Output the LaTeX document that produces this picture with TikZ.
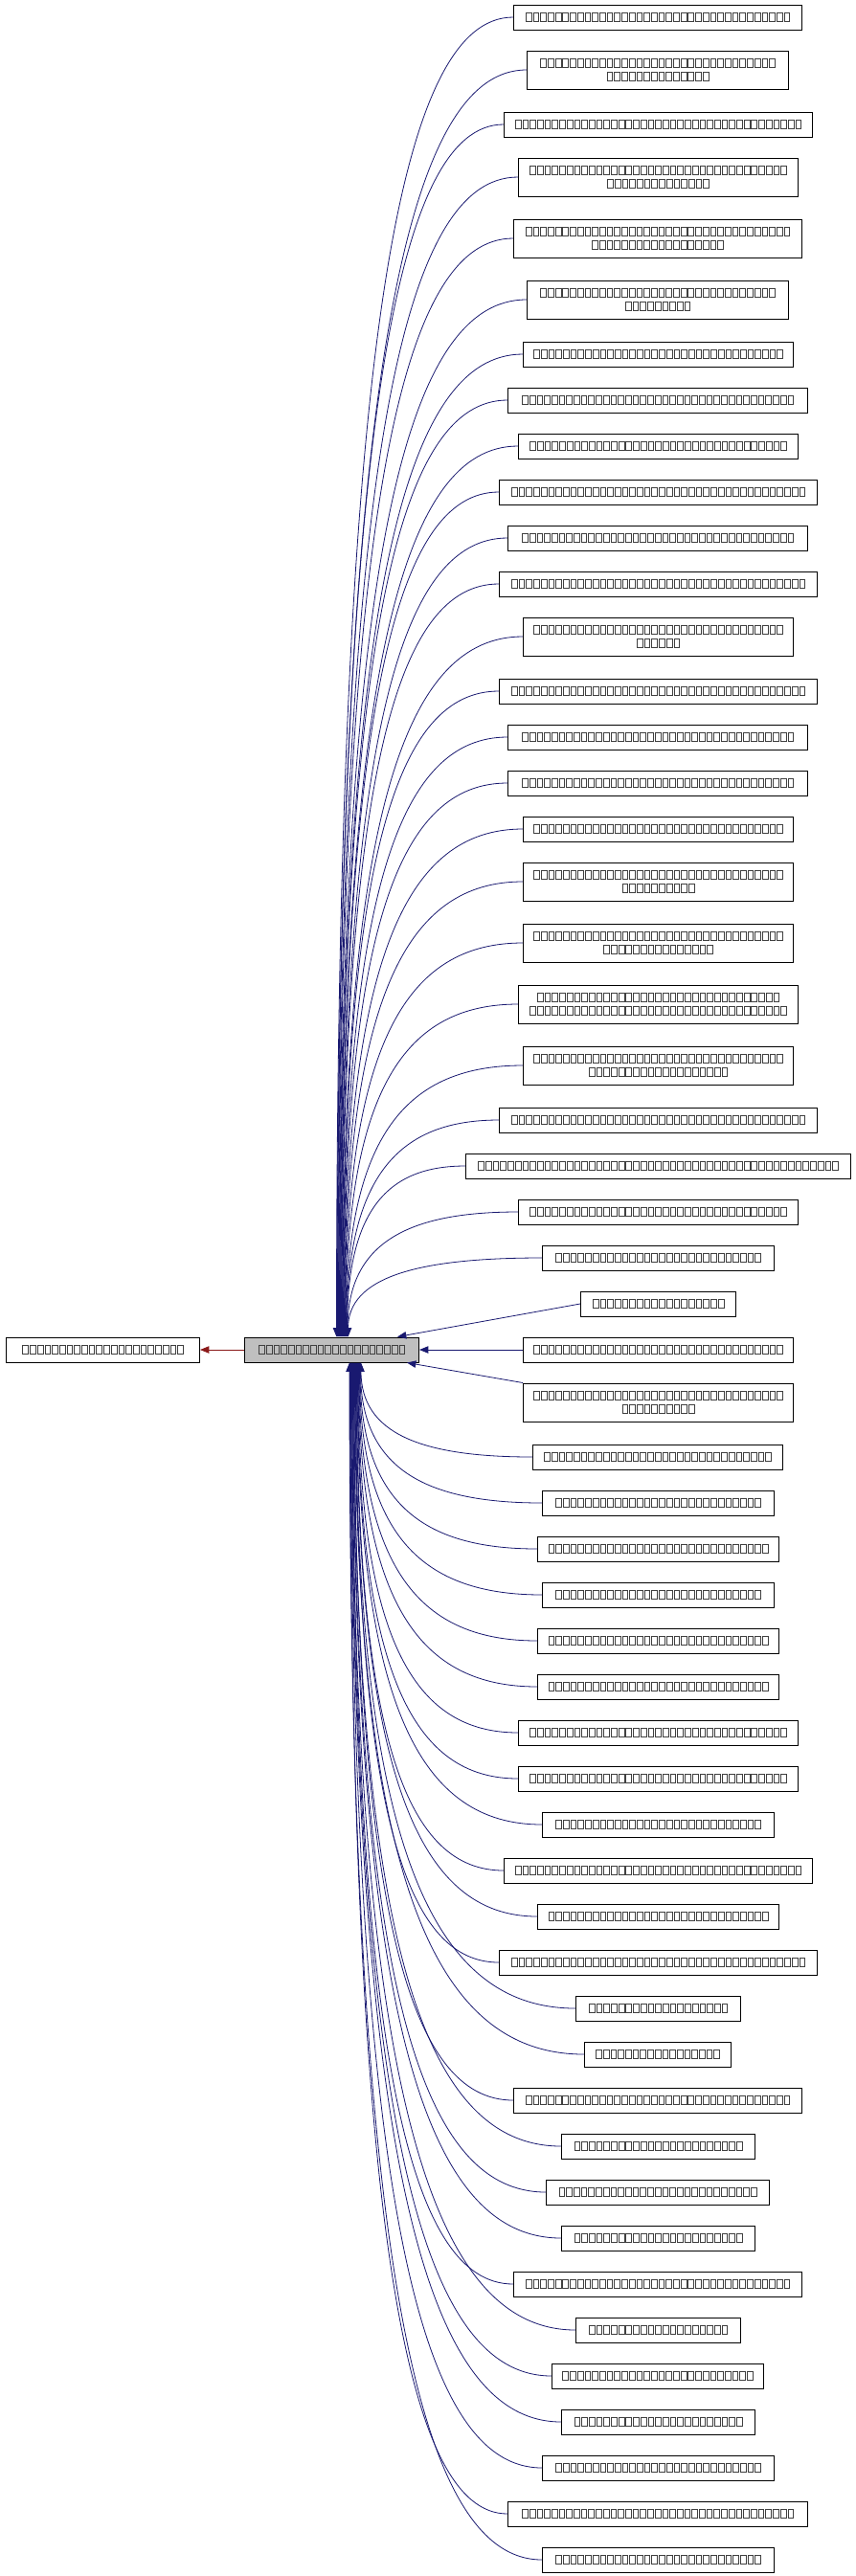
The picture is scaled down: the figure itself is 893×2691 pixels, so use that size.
\documentclass[tikz,border=0pt]{standalone}
\usetikzlibrary{arrows.meta,calc}
\definecolor{edgeblue}{HTML}{191970}
\definecolor{edgered}{HTML}{8B1A1A}
\definecolor{tofu}{HTML}{404040}
\newcount\tfc
\newcommand\tf{\hbox to 5.78pt{\hss\textcolor{tofu}{\vrule width0.5pt\vbox{\hrule height0.5pt width 3.8pt\vskip 6.3pt\hrule height0.5pt}\vrule width0.5pt}\hss}}
\newcommand\T[1]{\tfc=0 \loop\tf\advance\tfc 1 \ifnum\tfc<#1\repeat}
\tikzset{
  box/.style={draw=black, line width=0.75pt, inner sep=0pt, anchor=west, align=center,
    font=\fontsize{7.5pt}{10.5pt}\selectfont},
  one/.style={minimum height=19.5pt},
  two/.style={minimum height=30pt},
  arr/.style={edgeblue, line width=0.6pt, {Triangle[length=7pt,width=5.5pt]}-},
}
\begin{document}
\begin{tikzpicture}[x=0.75pt,y=-0.75pt]
\useasboundingbox (0,0) rectangle (893,2691);
\node[box,one,fill={rgb,255:red,191;green,191;blue,191},minimum width={182*0.75pt}] (c) at (255,1410) {\T{20}};
\node[box,one,minimum width={202*0.75pt}] (root) at (6,1410) {\T{22}};
\draw[edgered, line width=0.6pt, {Triangle[length=7pt,width=5.5pt]}-] (root.east) -- (c.west);
% single-line nodes: id/xl/xr/y/n
\foreach \i/\xl/\xr/\y/\n in {1/536/837/18/36, 3/526/848/130/39, 7/546/828/370/34, 8/530/843/418/37,
  9/541/833/466/35, 10/521/853/514/40, 11/530/843/562/37, 12/521/853/610/40, 14/521/853/722/40,
  15/530/843/770/37, 16/530/843/818/37, 17/546/828/866/34, 22/521/853/1170/40, 23/486/888/1218/49,
  24/541/833/1266/35, 25/566/808/1314/28, 26/606/768/1362/18, 27/546/828/1410/34, 29/556/817/1522/31,
  30/566/808/1570/28, 31/561/813/1618/30, 32/566/808/1666/28, 33/561/813/1714/30, 34/561/813/1762/30,
  35/541/833/1810/35, 36/541/833/1858/35, 37/566/808/1906/28, 38/526/848/1954/39, 39/561/813/2002/30,
  40/521/853/2050/40, 41/601/773/2098/19, 42/610/763/2146/17, 43/536/837/2194/36, 44/586/788/2242/23,
  45/570/803/2290/27, 46/586/788/2338/23, 47/536/837/2386/36, 48/601/773/2434/19, 49/576/797/2482/26,
  50/586/788/2530/23, 51/566/808/2578/28, 52/530/843/2626/37, 53/566/808/2674/28}
  {\node[box,one,minimum width={(\xr-\xl)*0.75pt}] (n\i) at (\xl,\y) {\T{\n}};}
% two-line nodes
\foreach \i/\xl/\xr/\y/\a/\b in {2/550/823/73/32/14, 4/541/833/185/35/14, 5/536/837/249/36/18,
  6/550/823/313/32/9, 13/546/828/665/34/6, 18/546/828/921/34/10, 19/546/828/985/34/15,
  20/541/833/1049/33/35, 21/546/828/1113/34/19, 28/546/828/1465/34/10}
  {\node[box,two,minimum width={(\xr-\xl)*0.75pt}] (n\i) at (\xl,\y) {\T{\a}\\\T{\b}};}
% edges
\foreach \i in {1,...,25}
  {\coordinate (t\i) at ($(c.north west)+({96+\i*0.5},0)$);
   \coordinate (k\i) at (t\i |- n\i.west);
   \draw[arr] (t\i) .. controls ($(t\i)!0.75!(k\i)$) and ($(n\i.west)!0.65!(k\i)$) .. (n\i.west);}
\coordinate (t26) at ($(c.north west)+(160,0)$);
\draw[arr] (t26) -- (n26.west);
\draw[arr] (c.east) -- (n27.west);
\coordinate (t28) at ($(c.south west)+(170,0)$);
\draw[arr] (t28) -- (n28.north west);
\foreach \i in {29,...,53}
  {\coordinate (t\i) at ($(c.south west)+({122-(\i-29)*0.5},0)$);
   \coordinate (k\i) at (t\i |- n\i.west);
   \draw[arr] (t\i) .. controls ($(t\i)!0.75!(k\i)$) and ($(n\i.west)!0.65!(k\i)$) .. (n\i.west);}
\end{tikzpicture}
\end{document}
